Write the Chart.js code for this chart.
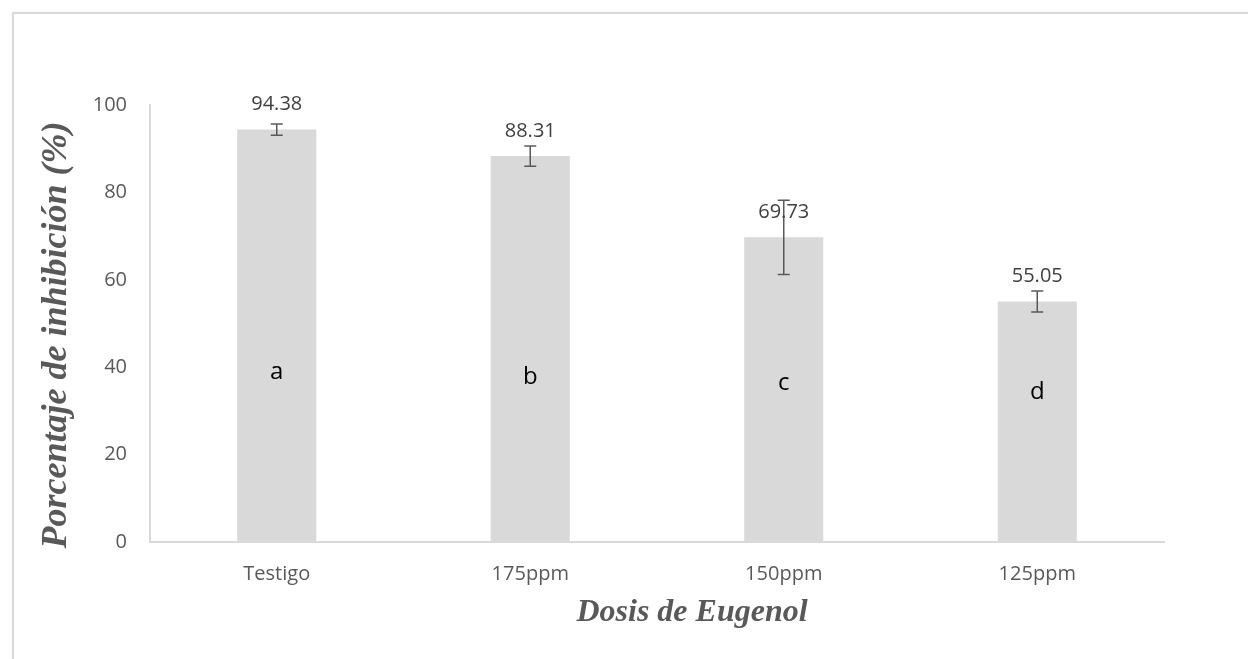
<!DOCTYPE html>
<html lang="es">
<head>
    <meta charset="UTF-8">
    <title>Porcentaje de inhibición</title>
    <script src="https://cdn.jsdelivr.net/npm/chart.js"></script>
    <style>
        body { margin: 0; background: #fff; }
        .frame {
            position: absolute;
            left: 12px;
            top: 12px;
            width: 1300px;
            height: 700px;
            border-left: 2px solid #d9d9d9;
            border-top: 2px solid #d9d9d9;
        }
        canvas { position: absolute; left: 0; top: 0; }
    </style>
</head>
<body>
<div class="frame"></div>
<canvas id="inhibitionChart" width="1248" height="659"></canvas>

<script>
const categories = ['Testigo', '175ppm', '150ppm', '125ppm'];
const inhibition = [94.38, 88.31, 69.73, 55.05];
const errors = [1.3, 2.3, 8.5, 2.4];
const letters = ['a', 'b', 'c', 'd'];
const letterLevels = [38.9, 37.8, 36.4, 34.3];
const yTicks = [0, 20, 40, 60, 80, 100];

Chart.defaults.font.family = "'Open Sans', sans-serif";
Chart.defaults.color = '#595959';

// error bars, value labels and significance letters
const extras = {
    id: 'extras',
    afterDatasetsDraw(chart) {
        const ctx = chart.ctx;
        const y = chart.scales.y;
        const bars = chart.getDatasetMeta(0).data;
        ctx.save();
        bars.forEach((bar, i) => {
            const top = y.getPixelForValue(inhibition[i] + errors[i]);
            const bottom = y.getPixelForValue(inhibition[i] - errors[i]);
            ctx.strokeStyle = '#595959';
            ctx.lineWidth = 1.5;
            ctx.beginPath();
            ctx.moveTo(bar.x, top);
            ctx.lineTo(bar.x, bottom);
            ctx.moveTo(bar.x - 6, top);
            ctx.lineTo(bar.x + 6, top);
            ctx.moveTo(bar.x - 6, bottom);
            ctx.lineTo(bar.x + 6, bottom);
            ctx.stroke();

            ctx.textAlign = 'center';
            ctx.textBaseline = 'middle';
            ctx.fillStyle = '#404040';
            ctx.font = "20px 'Open Sans', sans-serif";
            ctx.fillText(inhibition[i].toFixed(2), bar.x, bar.y - 25);

            ctx.fillStyle = '#000';
            ctx.font = "24px 'Open Sans', sans-serif";
            ctx.fillText(letters[i], bar.x, y.getPixelForValue(letterLevels[i]));
        });

        ctx.fillStyle = '#595959';
        ctx.textAlign = 'center';
        ctx.textBaseline = 'middle';
        ctx.font = "italic bold 32px 'Liberation Serif', serif";
        ctx.fillText('Dosis de Eugenol', 692, 613);
        ctx.font = "italic bold 36px 'Liberation Serif', serif";
        ctx.translate(57, 335);
        ctx.rotate(-Math.PI / 2);
        ctx.fillText('Porcentaje de inhibición (%)', 0, 0);
        ctx.restore();
    }
};

new Chart(document.getElementById('inhibitionChart'), {
    type: 'bar',
    data: {
        labels: categories,
        datasets: [{
            data: inhibition,
            backgroundColor: '#d9d9d9',
            categoryPercentage: 1,
            barPercentage: 0.312
        }]
    },
    options: {
        responsive: false,
        animation: false,
        layout: { padding: { left: 0, top: 105, right: 84, bottom: 0 } },
        plugins: { legend: { display: false }, tooltip: { enabled: false } },
        scales: {
            x: {
                grid: { color: 'transparent', drawTicks: false },
                border: { color: '#d9d9d9', width: 2 },
                ticks: { padding: 20, font: { size: 20 } },
                afterFit(scale) { scale.height = 117; }
            },
            y: {
                min: 0,
                max: 100,
                grid: { color: 'transparent', drawTicks: false },
                border: { color: '#d9d9d9', width: 2 },
                ticks: { padding: 23, font: { size: 20 } },
                afterBuildTicks(scale) { scale.ticks = yTicks.map(v => ({ value: v })); },
                afterFit(scale) { scale.width = 150; }
            }
        }
    },
    plugins: [extras]
});
</script>
</body>
</html>
